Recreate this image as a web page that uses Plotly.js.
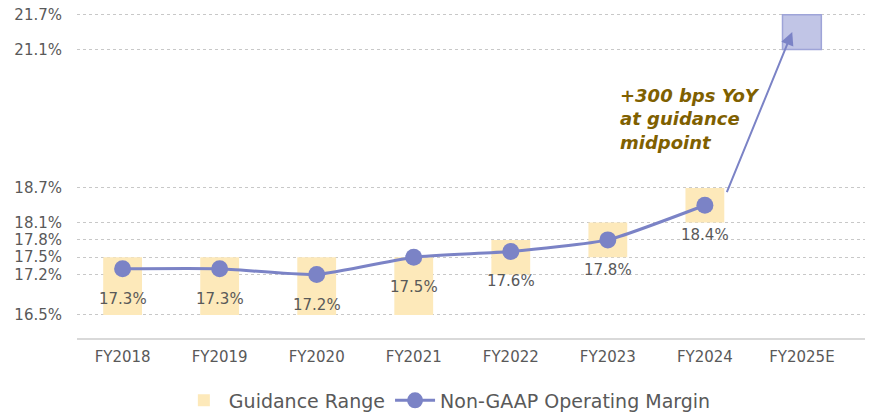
<!DOCTYPE html>
<html>
<head>
<meta charset="utf-8">
<script src="https://cdn.plot.ly/plotly-3.0.1.min.js"></script>
<style>html,body{margin:0;padding:0;background:#fff;}#chart{width:872px;height:414px;}</style>
</head>
<body>
<div id="chart"></div>
<script>
// ---- data ----
const categories = ['FY2018','FY2019','FY2020','FY2021','FY2022','FY2023','FY2024','FY2025E'];
const guidanceLow  = [16.5, 16.5, 16.5, 16.5, 17.2, 17.5, 18.1, 21.1];
const guidanceHigh = [17.5, 17.5, 17.5, 17.5, 17.8, 18.1, 18.7, 21.7];
const marginActual = [17.3, 17.3, 17.2, 17.5, 17.6, 17.8, 18.4];
const yTickVals = [16.5, 17.2, 17.5, 17.8, 18.1, 18.7, 21.1, 21.7];
const yTickText = ['16.5%','17.2%','17.5%','17.8%','18.1%','18.7%','21.1%','21.7%'];
const annotationText = '+300 bps YoY<br>at guidance<br>midpoint';
const legendNames = ['Guidance Range', 'Non-GAAP Operating Margin'];

// ---- styles ----
const FONT = 'DejaVu Sans, sans-serif';
const GRAY = '#595959';
const LINE = '#7B83C6';
const BAR = '#FDE9BA';

const nAct = marginActual.length;
const histCats = categories.slice(0, nAct);
const estCats = categories.slice(nAct);

const barHist = {
  type: 'bar', name: legendNames[0],
  x: histCats,
  base: guidanceLow.slice(0, nAct),
  y: guidanceHigh.slice(0, nAct).map((h, i) => h - guidanceLow[i]),
  width: 0.4,
  marker: {color: BAR, line: {width: 0}},
  hoverinfo: 'skip'
};
const barEst = {
  type: 'bar', name: 'Guidance (E)', showlegend: false,
  x: estCats,
  base: guidanceLow.slice(nAct),
  y: guidanceHigh.slice(nAct).map((h, i) => h - guidanceLow[nAct + i]),
  width: 0.4,
  marker: {color: 'rgba(160,166,216,0.65)', line: {color: '#9EA4D8', width: 1.5}},
  hoverinfo: 'skip'
};
const line = {
  type: 'scatter', mode: 'lines+markers', name: legendNames[1],
  x: histCats, y: marginActual,
  line: {color: LINE, width: 3, shape: 'spline', smoothing: 0.5},
  marker: {color: LINE, size: 17}
};

const annotations = marginActual.map((v, i) => ({
  x: i, y: v, xref: 'x', yref: 'y', text: v.toFixed(1) + '%',
  showarrow: false, yshift: -30,
  font: {family: FONT, size: 15, color: GRAY}
}));

const estMid = (guidanceLow[nAct] + guidanceHigh[nAct]) / 2;
annotations.push({
  x: nAct - 0.1, y: estMid, xref: 'x', yref: 'y',
  ax: nAct - 1 + 0.22, ay: marginActual[nAct - 1] + 0.2, axref: 'x', ayref: 'y',
  showarrow: true, arrowhead: 2, arrowsize: 1.3, arrowwidth: 2, arrowcolor: LINE,
  standoff: 0, startstandoff: 0, text: ''
});
annotations.push({
  x: 5.1, y: 19.9, xref: 'x', yref: 'y', xanchor: 'left', yanchor: 'middle',
  align: 'left', showarrow: false, text: '<b><i>' + annotationText + '</i></b>',
  font: {family: FONT, size: 18, color: '#7F6000'}
});

const layout = {
  width: 872, height: 414,
  margin: {l: 77, r: 7, t: 9, b: 76, autoexpand: false},
  paper_bgcolor: '#fff', plot_bgcolor: '#fff',
  barmode: 'overlay',
  font: {family: FONT, color: GRAY},
  showlegend: true,
  legend: {orientation: 'h', x: 0.47, xanchor: 'center', y: -0.19, yanchor: 'middle',
           font: {family: FONT, size: 19, color: GRAY}, traceorder: 'normal',
           itemwidth: 40},
  xaxis: {
    type: 'category', categoryorder: 'array', categoryarray: categories,
    range: [-0.47, 7.65], showgrid: false, zeroline: false, automargin: false,
    showline: true, linecolor: '#D9D9D9', linewidth: 2,
    ticks: '', ticklabelstandoff: 4,
    tickfont: {family: FONT, size: 15, color: GRAY}
  },
  yaxis: {
    range: [16.1, 21.8], tickmode: 'array', tickvals: yTickVals, ticktext: yTickText,
    showgrid: true, gridcolor: '#C8C8C8', griddash: 'dot', gridwidth: 1,
    zeroline: false, showline: false, ticks: '', ticklabelstandoff: 14, automargin: false,
    tickfont: {family: FONT, size: 15, color: GRAY}
  },
  annotations: annotations
};

Plotly.newPlot('chart', [barHist, barEst, line], layout, {displayModeBar: false, staticPlot: true});
</script>
</body>
</html>
